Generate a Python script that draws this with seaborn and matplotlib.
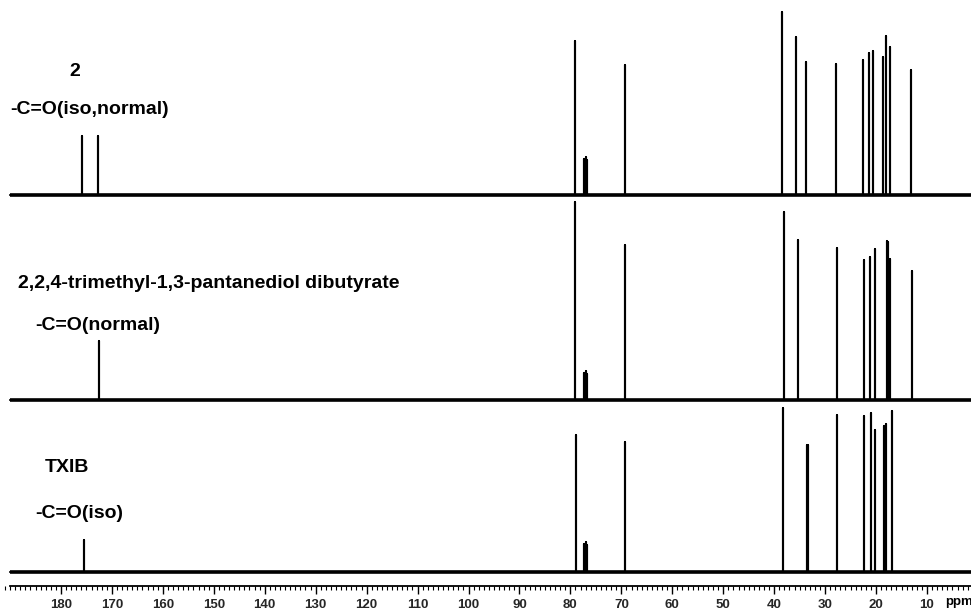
"""
13C NMR stacked spectra: compound 2, 2,2,4-trimethyl-1,3-pentanediol dibutyrate, TXIB.
"""

import matplotlib

matplotlib.use("Agg")
import matplotlib.pyplot as plt
import pandas as pd
import seaborn as sns
from matplotlib.ticker import MultipleLocator

# peak lists (ppm, peak height)
ppm_2 = [175.9, 172.8, 79.0, 77.3, 77.0, 76.7, 69.3, 38.4, 35.7, 33.8, 27.9,
         22.6, 21.4, 20.5, 18.6, 18.0, 17.3, 13.1]
int_2 = [59, 59, 154, 36, 38, 35, 130, 183, 158, 133, 131,
         135, 142, 144, 138, 159, 148, 125]

ppm_dibut = [172.5, 79.0, 77.3, 77.0, 76.7, 69.3, 38.0, 35.4, 27.6,
             22.4, 21.2, 20.3, 17.9, 17.7, 17.3, 13.0]
int_dibut = [59, 198, 27, 29, 26, 155, 188, 160, 152,
             140, 143, 151, 159, 158, 141, 129]

ppm_txib = [175.4, 78.9, 77.3, 77.0, 76.7, 69.2, 38.2, 33.6, 33.3, 27.6,
            22.3, 20.9, 20.2, 18.5, 18.1, 16.9]
int_txib = [32, 137, 28, 30, 27, 130, 164, 127, 127, 157,
            156, 159, 142, 146, 148, 161]

names = ["2", "dibutyrate", "TXIB"]
tick_ppm = list(range(180, 0, -10))

PPM_LEFT, PPM_RIGHT = 191.97, 1.36
OFFSETS = {"2": 391, "dibutyrate": 186, "TXIB": 14}


def stick_trace(name, ppm, height):
    # baseline with vertical sticks at each peak
    rows = [(190.0, 0.0)]
    for p, h in sorted(zip(ppm, height), key=lambda t: -t[0]):
        rows += [(p, 0.0), (p, h), (p, 0.0)]
    rows.append((0.0, 0.0))
    df = pd.DataFrame(rows, columns=["ppm", "intensity"])
    df["y"] = df["intensity"] + OFFSETS[name]
    df["spectrum"] = name
    return df


data = pd.concat([
    stick_trace("2", ppm_2, int_2),
    stick_trace("dibutyrate", ppm_dibut, int_dibut),
    stick_trace("TXIB", ppm_txib, int_txib),
], ignore_index=True)

sns.set_theme(style="white")
plt.rcParams["font.family"] = ["Liberation Sans", "DejaVu Sans"]

fig = plt.figure(figsize=(9.71, 6.14), dpi=100)
ax = fig.add_axes([0, 28 / 614, 1, 586 / 614])

sns.lineplot(data=data, x="ppm", y="y", units="spectrum", estimator=None,
             sort=False, color="black", linewidth=1.5, ax=ax)
for name in names:
    ax.hlines(OFFSETS[name], 190, PPM_RIGHT, color="black", linewidth=2.6)

ax.set_xlim(PPM_LEFT, PPM_RIGHT)
ax.set_ylim(0, 586)
ax.set_xlabel("")
ax.set_ylabel("")
ax.set_yticks([])
for side in ["left", "top", "right"]:
    ax.spines[side].set_visible(False)
ax.spines["bottom"].set_bounds(190, PPM_RIGHT)
ax.spines["bottom"].set_color("black")
ax.spines["bottom"].set_linewidth(1.3)

ax.set_xticks(tick_ppm)
ax.set_xticklabels([str(t) for t in tick_ppm], fontsize=9.5, fontweight="bold")
ax.xaxis.set_minor_locator(MultipleLocator(1))
ax.tick_params(axis="x", which="major", direction="out", length=6, width=1.0,
               color="black", pad=3, bottom=True)
ax.tick_params(axis="x", which="minor", direction="out", length=3, width=0.8,
               color="black", bottom=True)

W, H = 971, 614
txt = dict(fontweight="bold", fontsize=14, color="black")
fig.text(75 / W, 1 - 72 / H, "2", ha="center", va="center", **txt)
fig.text(10 / W, 1 - 110 / H, "-C=O(iso,normal)", ha="left", va="center", **txt)
fig.text(18 / W, 1 - 283 / H, "2,2,4-trimethyl-1,3-pantanediol dibutyrate",
         ha="left", va="center", **txt)
fig.text(35 / W, 1 - 326 / H, "-C=O(normal)", ha="left", va="center", **txt)
fig.text(45 / W, 1 - 468 / H, "TXIB", ha="left", va="center", **txt)
fig.text(35 / W, 1 - 513 / H, "-C=O(iso)", ha="left", va="center", **txt)
fig.text(945 / W, 1 - 602 / H, "ppm", ha="left", va="center",
         fontweight="bold", fontsize=9.5, color="black")

fig.savefig("out.png", dpi=100)
